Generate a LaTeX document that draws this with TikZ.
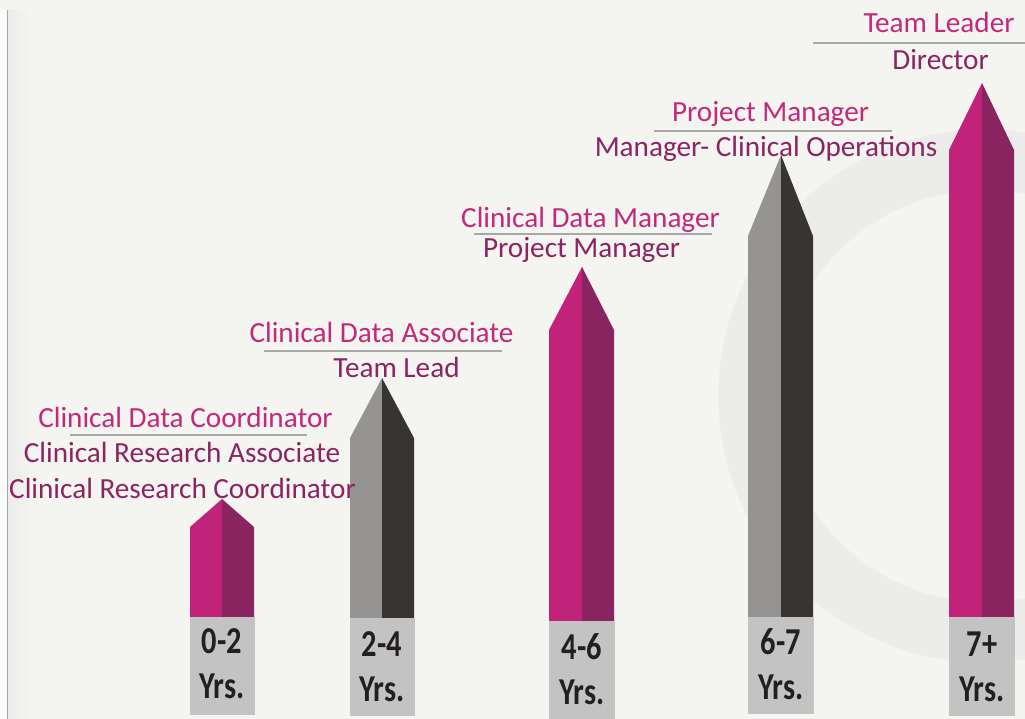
\documentclass[tikz,border=0pt]{standalone}
\usepackage{fontspec}
\setmainfont{Carlito}
\usepackage{tikz}
\usetikzlibrary{positioning}

\definecolor{bgpaper}{HTML}{F4F4F0}
\definecolor{ringgray}{HTML}{ECECEB}
\definecolor{pinkL}{HTML}{C2237A}
\definecolor{pinkD}{HTML}{8A2460}
\definecolor{grayL}{HTML}{959493}
\definecolor{grayD}{HTML}{383431}
\definecolor{boxgray}{HTML}{C3C3C3}
\definecolor{txtpink}{HTML}{C4287B}
\definecolor{txtpurple}{HTML}{8B2562}
\definecolor{txtdark}{HTML}{231F20}
\definecolor{rulegray}{HTML}{A8A8A8}

\newcommand{\yrs}[1]{\scalebox{0.8}[1]{#1}}

\begin{document}
\begin{tikzpicture}[x=1pt,y=-1pt,
		role/.style={font=\fontsize{29.2}{30}\selectfont, anchor=base, inner sep=0pt},
		newrole/.style={role, text=txtpink},
		oldrole/.style={role, text=txtpurple},
		rolerule/.style={draw=rulegray, line width=2.5pt},
		yrslabel/.style={font=\fontsize{38}{40}\selectfont\bfseries, text=txtdark, anchor=base, inner sep=0pt}]
			\useasboundingbox (0,0) rectangle (1025,719);
			% paper
			\fill[bgpaper] (0,0) rectangle (1025,719);
			\fill[white!97!gray] (0,10) rectangle (7,719);
			\shade[left color=ringgray, right color=bgpaper] (8,10) rectangle (32,719);
			\draw[gray!70, line width=1pt] (7.5,10) -- (7.5,719);
			% faint ring
			\begin{scope}
				\clip (0,0) rectangle (1025,719);
				\fill[ringgray, even odd rule] (985,396) circle (266.6) (985,396) circle (206);
			\end{scope}
			% 0-2
			\fill[pinkL] (190,617) -- (190,527) -- (222,499) -- (222,617) -- cycle;
			\fill[pinkD] (222,617) -- (222,499) -- (254,527) -- (254,617) -- cycle;
			\fill[boxgray] (189.5,617) rectangle (254.5,715);
			\node[yrslabel] (num1) at (222,653) {\yrs{0-2}};
			\node[yrslabel] (yrs1) at (222,698) {\yrs{Yrs.}};
			% 2-4
			\fill[grayL] (350,618) -- (350,438) -- (382,378) -- (382,618) -- cycle;
			\fill[grayD] (382,618) -- (382,378) -- (414,438) -- (414,618) -- cycle;
			\fill[boxgray] (349.5,618) rectangle (414.5,716);
			\node[yrslabel] (num2) at (382,656) {\yrs{2-4}};
			\node[yrslabel] (yrs2) at (382,701) {\yrs{Yrs.}};
			% 4-6
			\fill[pinkL] (549,621) -- (549,330) -- (582,267) -- (582,621) -- cycle;
			\fill[pinkD] (582,621) -- (582,267) -- (614,330) -- (614,621) -- cycle;
			\fill[boxgray] (549,621) rectangle (615,719);
			\node[yrslabel] (num3) at (582,659) {\yrs{4-6}};
			\node[yrslabel] (yrs3) at (582,704) {\yrs{Yrs.}};
			% 6-7
			\fill[grayL] (748,617) -- (748,236) -- (781,155) -- (781,617) -- cycle;
			\fill[grayD] (781,617) -- (781,155) -- (813,236) -- (813,617) -- cycle;
			\fill[boxgray] (748,617) rectangle (814,714);
			\node[yrslabel] (num4) at (781,654) {\yrs{6-7}};
			\node[yrslabel] (yrs4) at (781,699) {\yrs{Yrs.}};
			% 7+
			\fill[pinkL] (949,617) -- (949,150) -- (982,83) -- (982,617) -- cycle;
			\fill[pinkD] (982,617) -- (982,83) -- (1014,150) -- (1014,617) -- cycle;
			\fill[boxgray] (948.5,617) rectangle (1014.5,716);
			\node[yrslabel] (num5) at (982,656) {\yrs{7+}};
			\node[yrslabel] (yrs5) at (982,701) {\yrs{Yrs.}};
			% roles
			\node[newrole] (cdc) at (185.5,427) {Clinical Data Coordinator};
			\draw[rolerule] (70,435) -- (307,435);
			\node[oldrole] (cra) at (182,462) {Clinical Research Associate};
			\node[oldrole] (crc) at (182.5,498) {Clinical Research Coordinator};
			\node[newrole] (cda) at (381.5,342) {Clinical Data Associate};
			\draw[rolerule] (264,351) -- (502,351);
			\node[oldrole] (tl) at (396.5,377) {Team Lead};
			\node[newrole] (cdm) at (590.5,228) {Clinical Data Manager};
			\draw[rolerule] (474,234) -- (712,234);
			\node[oldrole] (pm) at (581.5,258) {Project Manager};
			\node[newrole] (pmnew) at (770.5,122) {Project Manager};
			\draw[rolerule] (654,131) -- (892,131);
			\node[oldrole] (mco) at (766,157) {Manager- Clinical Operations};
			\node[newrole] (tlr) at (939,33) {Team Leader};
			\draw[rolerule] (813,43) -- (1025,43);
			\node[oldrole] (dir) at (940.5,70) {Director};
		\end{tikzpicture}
\end{document}
